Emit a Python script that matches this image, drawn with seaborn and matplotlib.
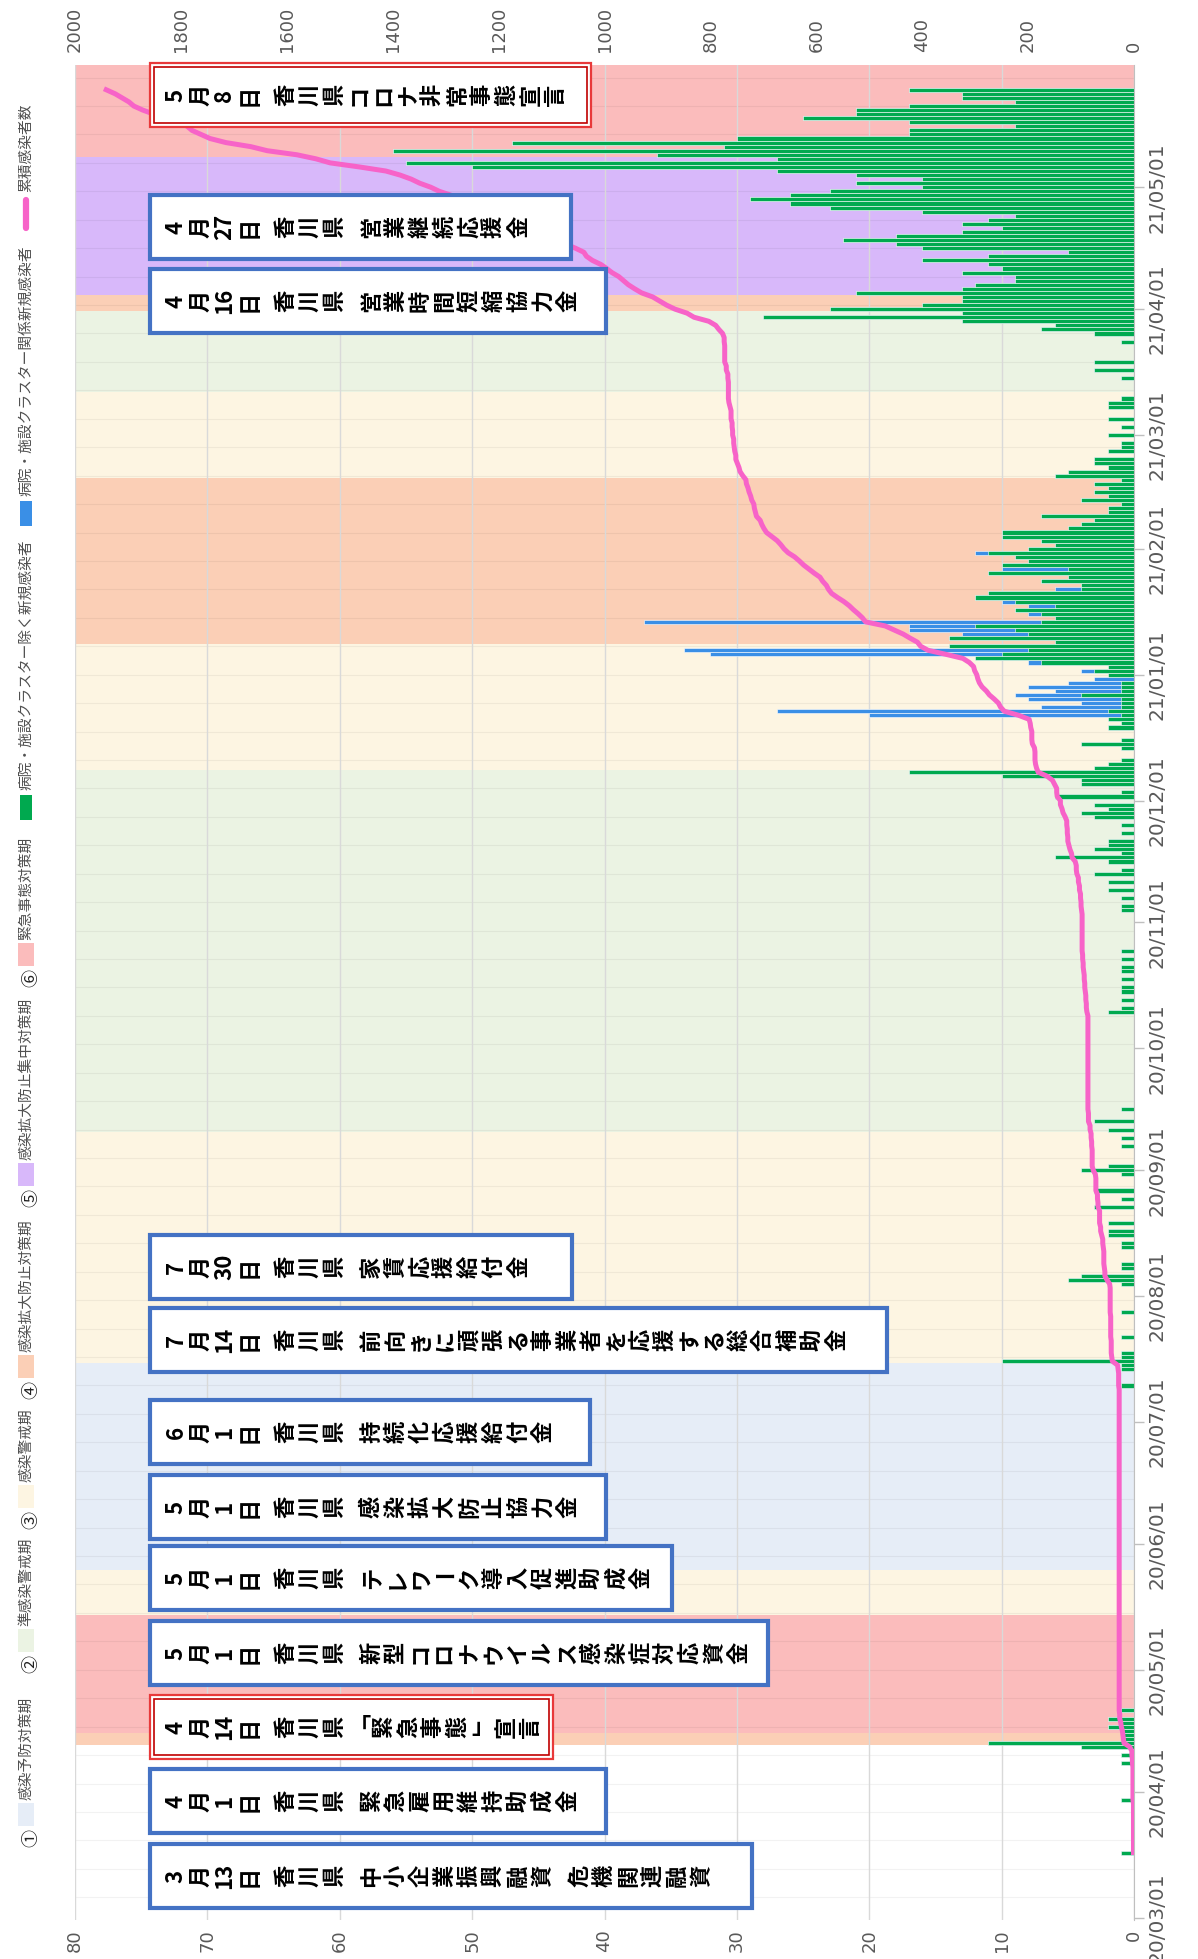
import numpy as np
import pandas as pd
import matplotlib
matplotlib.use("Agg")
import matplotlib.pyplot as plt
from matplotlib.patches import Rectangle
import seaborn as sns

# ── Data: new cases per day, excluding hospital / facility clusters ──
green_2020_03 = [0, 0, 0, 0, 0, 0, 0, 0, 0, 0, 0, 0, 0, 0, 0, 0, 1, 0, 0, 0,
                 0, 0, 0, 0, 0, 0, 0, 0, 0, 1, 0]
green_2020_04 = [0, 0, 0, 0, 0, 0, 0, 1, 0, 1, 0, 4, 11, 1, 1, 1, 2, 1, 2, 0,
                 1, 0, 0, 0, 0, 0, 0, 0, 0, 0]
green_2020_05 = [0] * 31
green_2020_06 = [0] * 30
green_2020_07 = [0, 0, 0, 0, 0, 0, 0, 0, 0, 1, 0, 0, 0, 1, 1, 10, 1, 1, 0, 0,
                 0, 1, 0, 0, 0, 0, 0, 1, 0, 0, 0]
green_2020_08 = [0, 0, 0, 1, 5, 4, 0, 1, 1, 0, 0, 0, 1, 1, 0, 2, 2, 0, 2, 0,
                 0, 0, 3, 0, 1, 0, 3, 0, 0, 0, 1]
green_2020_09 = [4, 2, 0, 0, 0, 0, 1, 0, 1, 0, 2, 0, 3, 0, 0, 1, 0, 0, 0, 0,
                 0, 0, 0, 0, 0, 0, 0, 0, 0, 0]
green_2020_10 = [0, 0, 0, 0, 0, 0, 0, 0, 0, 2, 1, 0, 1, 0, 1, 1, 0, 1, 0, 1,
                 1, 0, 1, 0, 1, 0, 0, 0, 0, 0, 0]
green_2020_11 = [0, 0, 0, 1, 1, 0, 1, 0, 2, 0, 2, 0, 3, 1, 0, 2, 6, 1, 3, 2,
                 2, 0, 1, 0, 1, 0, 3, 4, 2, 3]
green_2020_12 = [0, 6, 1, 0, 4, 4, 10, 17, 3, 2, 1, 0, 0, 1, 4, 1, 0, 0, 2, 1,
                 2, 1, 2, 1, 1, 1, 4, 1, 1, 1, 0]
green_2021_01 = [2, 3, 2, 7, 12, 10, 8, 14, 6, 14, 8, 9, 12, 7, 6, 7, 9, 6, 9, 12,
                 11, 4, 4, 7, 5, 11, 5, 10, 8, 9, 11]
green_2021_02 = [8, 6, 7, 10, 10, 5, 4, 3, 7, 2, 2, 1, 4, 2, 3, 2, 3, 1, 6, 5,
                 2, 3, 3, 0, 2, 1, 1, 0]
green_2021_03 = [2, 0, 1, 0, 2, 0, 0, 2, 2, 1, 0, 0, 0, 0, 1, 0, 3, 0, 3, 0,
                 0, 0, 0, 1, 0, 3, 7, 6, 13, 28, 13]
green_2021_04 = [23, 16, 13, 13, 21, 13, 12, 9, 9, 13, 10, 11, 16, 11, 5, 16, 18, 22, 18, 13,
                 10, 13, 11, 9, 16, 23, 26, 29, 26, 23]
green_2021_05 = [16, 21, 16, 21, 27, 50, 55, 27, 36, 56, 31, 47, 30, 17, 17, 9, 17, 25, 21, 21,
                 17, 9, 13, 13, 17, 0, 0, 0, 0, 0, 0]

# new cases linked to hospital / facility clusters
cluster_dates = ["2020-12-22", "2020-12-23", "2020-12-24", "2020-12-25", "2020-12-26",
                 "2020-12-27", "2020-12-28", "2020-12-29", "2020-12-30", "2020-12-31",
                 "2021-01-02", "2021-01-04", "2021-01-06", "2021-01-07", "2021-01-11",
                 "2021-01-12", "2021-01-13", "2021-01-14", "2021-01-16", "2021-01-18",
                 "2021-01-19", "2021-01-22", "2021-01-27", "2021-01-31"]
cluster_cases = [19, 25, 6, 3, 7, 5, 5, 7, 4, 3,
                 1, 1, 22, 26, 5, 8, 5, 30, 1, 2,
                 1, 2, 5, 1]

# alert phases: first day, last day, phase number
phase_first = ["2020-04-13", "2020-04-16", "2020-05-15", "2020-05-26", "2020-07-16",
               "2020-09-11", "2020-12-09", "2021-01-09", "2021-02-19", "2021-03-12",
               "2021-04-01", "2021-04-05", "2021-05-09"]
phase_last = ["2020-04-15", "2020-05-14", "2020-05-25", "2020-07-15", "2020-09-10",
              "2020-12-08", "2021-01-08", "2021-02-18", "2021-03-11", "2021-03-31",
              "2021-04-04", "2021-05-08", "2021-05-31"]
phase_num = [4, 6, 3, 1, 3, 2, 3, 4, 3, 2, 4, 5, 6]
phase_names = ["感染予防対策期", "準感染警戒期", "感染警戒期", "感染拡大防止対策期",
               "感染拡大防止集中対策期", "緊急事態対策期"]
phase_marks = ["①", "②", "③", "④", "⑤", "⑥"]

month_ticks = pd.date_range("2020-03-01", "2021-05-01", freq="MS")

box_labels = ["3月13日 香川県 中小企業振興融資 危機関連融資",
              "4月1日 香川県 緊急雇用維持助成金",
              "4月14日 香川県「緊急事態」宣言",
              "5月1日 香川県 新型コロナウイルス感染症対応資金",
              "5月1日 香川県 テレワーク導入促進助成金",
              "5月1日 香川県 感染拡大防止協力金",
              "6月1日 香川県 持続化応援給付金",
              "7月14日 香川県 前向きに頑張る事業者を応援する総合補助金",
              "7月30日 香川県 家賃応援給付金",
              "4月16日 香川県 営業時間短縮協力金",
              "4月27日 香川県 営業継続応援金",
              "5月8日 香川県コロナ非常事態宣言"]
box_red = [False, False, True, False, False, False, False, False, False, False, False, True]

# ── Styling / layout ─────────────────────────────────────────
W, H = 1198, 1959
GREEN = "#00a94f"
BLUE = "#3a8fe6"
PINK = "#f763c8"
GREY = "#595959"
PHASE_COLORS = ["#e6edf7", "#ebf3e3", "#fdf5e2", "#fbcfb6", "#d8b8fa", "#fbbcbc"]
box_y = [1876, 1801, 1727, 1653, 1578, 1507, 1432, 1340, 1267, 301, 227, 95]
box_right = [752, 606, 553, 768, 672, 606, 590, 887, 572, 606, 571, 591]

plt.rcParams["font.family"] = ["Noto Sans CJK JP", "DejaVu Sans"]

T0 = pd.Timestamp("2020-03-01")


def day_of(s):
    return (pd.Timestamp(s) - T0).days


def tokens(label):
    out, buf = [], ""
    for ch in label:
        if ch.isdigit():
            buf += ch
            continue
        if buf:
            out.append(buf)
            buf = ""
        out.append(ch)
    if buf:
        out.append(buf)
    return out


def main():
    months = [green_2020_03, green_2020_04, green_2020_05, green_2020_06, green_2020_07,
              green_2020_08, green_2020_09, green_2020_10, green_2020_11, green_2020_12,
              green_2021_01, green_2021_02, green_2021_03, green_2021_04, green_2021_05]
    green = np.array(sum(months, []), dtype=float)
    days = np.arange(len(green))
    blue = np.zeros_like(green)
    for d, v in zip(cluster_dates, cluster_cases):
        blue[day_of(d)] = v
    total = green + blue

    df = pd.DataFrame({"day": days, "green": green, "total": total})
    nz = np.nonzero(total)[0]
    first, last = nz[0], nz[-1]
    line = pd.DataFrame({"day": days[first:last + 1],
                         "cum": np.cumsum(total)[first:last + 1]})

    fig = plt.figure(figsize=(W / 100, H / 100), dpi=100)
    ax = fig.add_axes([75 / W, 1 - 1920 / H, (1134 - 75) / W, (1920 - 65) / H])

    # ── Phase bands ──
    for a, b, p in zip(phase_first, phase_last, phase_num):
        ax.axhspan(day_of(a) - 0.5, day_of(b) + 0.5, color=PHASE_COLORS[p - 1],
                   lw=0, zorder=0.1)
    for d in np.arange(5, 457, 7):
        ax.axhline(d, color="black", alpha=0.05, lw=0.8, zorder=0.3)

    # ── Bars (cluster stacked beyond non-cluster) ──
    sns.barplot(data=df[df.total > 0], x="total", y="day", orient="y", native_scale=True,
                color=BLUE, saturation=1, width=1, errorbar=None,
                edgecolor="white", linewidth=0.4, ax=ax, zorder=2)
    sns.barplot(data=df[df.green > 0], x="green", y="day", orient="y", native_scale=True,
                color=GREEN, saturation=1, width=1, errorbar=None,
                edgecolor="white", linewidth=0.4, ax=ax, zorder=2)

    # ── Cumulative line ──
    ax2 = ax.twiny()
    sns.lineplot(data=line, x="cum", y="day", orient="y", sort=False, estimator=None,
                 color=PINK, linewidth=3.6, ax=ax2)

    ax.set_xlim(80, 0)
    ax2.set_xlim(2000, 0)
    ax.set_ylim(-0.6, 456.1)

    ax.set_xticks(np.arange(0, 81, 10))
    ax.grid(axis="x", color="#d9d9d9", lw=1.0)
    ax.grid(axis="y", visible=False)
    ax.set_axisbelow(True)
    ax2.set_xticks(np.arange(0, 2001, 200))
    ax2.grid(False)

    ax.set_yticks([(m - T0).days for m in month_ticks])
    ax.set_yticklabels([m.strftime("%y/%m/%d") for m in month_ticks])
    ax.yaxis.tick_right()
    ax.tick_params(axis="y", length=7, width=1, color="#bfbfbf", pad=3,
                   labelsize=14.5, labelcolor=GREY)
    for lbl in ax.get_yticklabels():
        lbl.set_rotation(90)
        lbl.set_va("center")
        lbl.set_ha("left")
        lbl.set_fontfamily(["Liberation Sans Narrow", "DejaVu Sans"])
    ax.tick_params(axis="x", length=0, pad=7, labelsize=13, labelcolor=GREY,
                   labelrotation=90)
    ax2.tick_params(axis="x", length=0, pad=9, labelsize=13, labelcolor=GREY,
                    labelrotation=90)
    for lbl in ax.get_xticklabels() + ax2.get_xticklabels():
        lbl.set_fontfamily(["DejaVu Sans"])

    for s in ["top", "left", "bottom"]:
        ax.spines[s].set_visible(False)
    ax.spines["right"].set_color("#bfbfbf")
    for s in ax2.spines.values():
        s.set_visible(False)
    for a in (ax, ax2):
        a.set_xlabel("")
        a.set_ylabel("")

    # ── Overlay in pixel coordinates: legend and notes ──
    ov = fig.add_axes([0, 0, 1, 1], zorder=5)
    ov.set_xlim(0, W)
    ov.set_ylim(H, 0)
    ov.axis("off")

    lg = dict(rotation=90, ha="center", va="bottom", fontsize=10.6, color="#505050")
    phase_y = [1838, 1664, 1520, 1390, 1198, 978]
    for i, y in enumerate(phase_y):
        ov.text(31, y, phase_marks[i], rotation=90, ha="center", va="center",
                fontsize=13, color="#202020")
        ov.add_patch(Rectangle((18, y - 35), 16, 23, fc=PHASE_COLORS[i], ec="none"))
        ov.text(26, y - 38, phase_names[i], **lg)
    ov.add_patch(Rectangle((20, 795), 12, 25, fc=GREEN, ec="none"))
    ov.text(26, 790, "病院・施設クラスター除く新規感染者", **lg)
    ov.add_patch(Rectangle((20, 501), 12, 25, fc=BLUE, ec="none"))
    ov.text(26, 496, "病院・施設クラスター関係新規感染者", **lg)
    ov.plot([26, 26], [200, 228], color=PINK, lw=4.5, solid_capstyle="round")
    ov.text(26, 192, "累積感染者数", **lg)

    step, gap, bh, left = 24.5, 12, 64, 150
    for label, yc, right, red in zip(box_labels, box_y, box_right, box_red):
        if red:
            ov.add_patch(Rectangle((left, yc - bh / 2), right - left, bh,
                                   fc="white", ec="#e8393a", lw=1.6))
            ov.add_patch(Rectangle((left + 4, yc - bh / 2 + 4), right - left - 8, bh - 8,
                                   fc="none", ec="#c00000", lw=1.2))
        else:
            ov.add_patch(Rectangle((left, yc - bh / 2), right - left, bh,
                                   fc="white", ec="#4472c4", lw=3))
        x = left + 26
        for tok in tokens(label):
            if tok == " ":
                x += gap
                continue
            rot = 0 if tok in "「」ー" else 90
            ov.text(x, yc, tok, rotation=rot, ha="center", va="center",
                    fontsize=16, fontweight="bold", color="black")
            x += step

    fig.savefig("out.png", dpi=100, facecolor="white")
    plt.close(fig)


if __name__ == "__main__":
    main()
